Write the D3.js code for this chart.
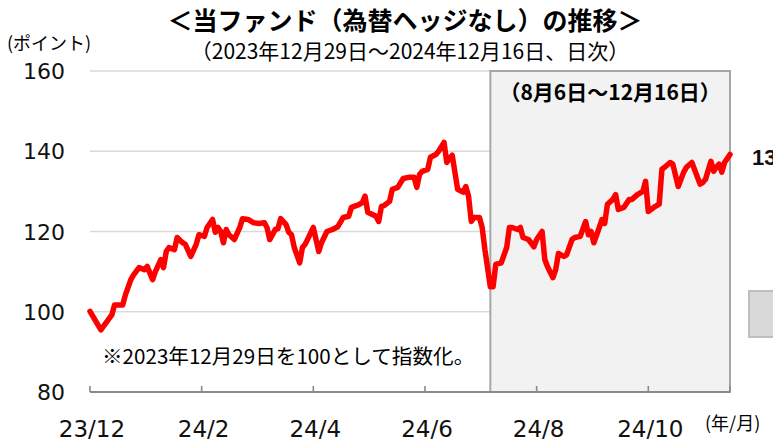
<html lang="ja">
<head>
<meta charset="utf-8">
<script src="https://cdnjs.cloudflare.com/ajax/libs/d3/7.8.5/d3.min.js"></script>
<style>
html, body {
  margin: 0;
  padding: 0;
  background: #fff;
  overflow: hidden;
}
.jp { font-family: 'Noto Sans CJK JP', sans-serif; }
.num { font-family: 'DejaVu Sans', sans-serif; }
</style>
</head>
<body>
<svg id="chart" width="773" height="441"></svg>
<script>
// trading day index (0 = 2023/12/29, 235 = 2024/12/16) and index value
const days = [0, 4, 8, 9, 12, 13, 15, 16, 18, 20, 21, 23, 24, 26, 27, 28, 29, 31, 32, 34,
  35, 37, 39, 40, 42, 43, 45, 46, 47, 48, 49, 50, 51, 53, 55, 56, 58, 60, 62, 64,
  65, 66, 67, 68, 69, 70, 72, 73, 74, 75, 77, 78, 79, 82, 84, 85, 87, 89, 91, 93,
  95, 96, 98, 99, 100, 101, 102, 105, 106, 107, 108, 110, 111, 113, 115, 117, 119, 120, 121, 122,
  124, 125, 127, 128, 130, 131, 132, 133, 135, 137, 138, 139, 140, 141, 143, 144, 145, 147, 148, 149,
  151, 153, 154, 155, 157, 158, 159, 161, 163, 164, 166, 167, 168, 170, 171, 172, 174, 175, 177, 178,
  180, 182, 183, 184, 185, 187, 188, 189, 190, 192, 193, 194, 196, 198, 199, 201, 203, 204, 205, 207,
  209, 210, 211, 213, 214, 216, 218, 219, 221, 224, 225, 226, 228, 229, 230, 231, 232, 233, 235];
const values = [100.1, 95.5, 99.2, 101.7, 101.7, 104.2, 108, 109.2, 111, 110.5, 111.3, 108, 110, 113, 111, 115, 116, 115.5, 118.5, 117.2,
  116.8, 113.8, 116.8, 119.2, 118.8, 121, 123, 119.8, 121, 120, 117.2, 120.5, 119.2, 118, 121, 123.2, 123, 122.2, 122, 122.2,
  121, 118, 119.2, 120.5, 120.7, 123.2, 121.7, 119.8, 119.2, 116, 112.2, 116, 116.8, 121, 115, 117.2, 120, 120.5, 121.2, 123.5,
  123.8, 126, 126.5, 126.8, 127.2, 128.8, 124.8, 123.8, 122.5, 126.2, 126.5, 127.5, 130.5, 131, 133.2, 133.5, 133.5, 131, 134.2, 135,
  135.5, 138.5, 139.2, 140, 142.2, 137.2, 138.2, 139, 130.5, 129.8, 131.2, 128.8, 122.5, 123.5, 123.5, 121, 115.5, 106.2, 106.2, 111.8,
  112.2, 116, 121, 121, 120.5, 121, 118.5, 118, 116.2, 118, 120, 113, 111.2, 108.5, 110.5, 114.5, 113.8, 114.2, 118, 118.5,
  118.8, 122.5, 119.2, 120, 117.2, 121, 123, 122, 126.8, 128, 129.2, 125.5, 126, 128, 128, 129.2, 130, 132.5, 125, 126,
  126.8, 135.5, 136, 137.2, 136.8, 131.2, 134.8, 136, 137.2, 131.8, 132.2, 133, 137.5, 135, 136, 136.8, 134.8, 137.2, 139.2];

const tickDays = [0, 41, 82, 123, 164, 205];
const tickLabels = ['23/12', '24/2', '24/4', '24/6', '24/8', '24/10'];
const yTicks = [80, 100, 120, 140, 160];
const periodStart = 147;   // 2024/8/6
const lastDay = 235;       // 2024/12/16

const svg = d3.select('#chart');

const x = d3.scaleLinear().domain([0, lastDay]).range([90, 730]);
const y = d3.scaleLinear().domain([80, 160]).range([392, 71]);

// grid lines
svg.append('g')
  .selectAll('line')
  .data(yTicks.filter(d => d > 80))
  .enter()
  .append('line')
  .attr('x1', x(0))
  .attr('x2', x(lastDay))
  .attr('y1', d => y(d))
  .attr('y2', d => y(d))
  .attr('stroke', '#d9d9d9')
  .attr('stroke-width', 1.6);

// shaded period
svg.append('rect')
  .attr('x', x(periodStart))
  .attr('y', y(160))
  .attr('width', x(lastDay) - x(periodStart))
  .attr('height', y(80) - y(160))
  .attr('fill', '#f2f2f2')
  .attr('stroke', '#a6a6a6')
  .attr('stroke-width', 2);

svg.append('text')
  .attr('class', 'jp')
  .attr('x', (x(periodStart) + x(lastDay)) / 2)
  .attr('y', 100)
  .attr('text-anchor', 'middle')
  .attr('font-size', 21)
  .attr('font-weight', 'bold')
  .text('（8月6日～12月16日）');

// y labels
svg.append('g')
  .selectAll('text')
  .data(yTicks)
  .enter()
  .append('text')
  .attr('class', 'num')
  .attr('x', 65)
  .attr('y', d => y(d) + 8)
  .attr('text-anchor', 'end')
  .attr('font-size', 22)
  .attr('fill', '#111')
  .text(d => d);

// x axis
const axisG = svg.append('g');
axisG.append('line')
  .attr('x1', x(0))
  .attr('x2', x(lastDay))
  .attr('y1', y(80))
  .attr('y2', y(80))
  .attr('stroke', '#898989')
  .attr('stroke-width', 2);

axisG.selectAll('.tick')
  .data(tickDays.concat([lastDay]))
  .enter()
  .append('line')
  .attr('x1', d => x(d))
  .attr('x2', d => x(d))
  .attr('y1', y(80) - 6)
  .attr('y2', y(80))
  .attr('stroke', '#898989')
  .attr('stroke-width', 1.6);

axisG.selectAll('.lbl')
  .data(tickDays)
  .enter()
  .append('text')
  .attr('class', 'num')
  .attr('x', d => x(d) + 2)
  .attr('y', 437)
  .attr('text-anchor', 'middle')
  .attr('font-size', 23)
  .attr('fill', '#111')
  .text((d, i) => tickLabels[i]);

// line
const line = d3.line()
  .x((d, i) => x(days[i]))
  .y(d => y(d));

svg.append('path')
  .datum(values)
  .attr('d', line)
  .attr('fill', 'none')
  .attr('stroke', '#ff0000')
  .attr('stroke-width', 5.5)
  .attr('stroke-linejoin', 'round')
  .attr('stroke-linecap', 'round');

// last value label (runs past the page edge as in the source)
svg.append('text')
  .attr('font-family', 'Liberation Sans, sans-serif')
  .attr('font-weight', 'bold')
  .attr('font-size', 22)
  .attr('x', 752)
  .attr('y', 165)
  .attr('fill', '#111')
  .text(values[values.length - 1].toFixed(1));

// box at right edge
svg.append('rect')
  .attr('x', 749)
  .attr('y', 291)
  .attr('width', 40)
  .attr('height', 46)
  .attr('fill', '#d9d9d9')
  .attr('stroke', '#bfbfbf')
  .attr('stroke-width', 2);

// titles and notes
svg.append('text')
  .attr('class', 'jp')
  .attr('x', 405)
  .attr('y', 30)
  .attr('text-anchor', 'middle')
  .attr('font-size', 25)
  .attr('font-weight', 'bold')
  .text('＜当ファンド（為替ヘッジなし）の推移＞');

svg.append('text')
  .attr('class', 'jp')
  .attr('x', 410)
  .attr('y', 59)
  .attr('text-anchor', 'middle')
  .attr('font-size', 21)
  .text('（2023年12月29日～2024年12月16日、日次）');

svg.append('text')
  .attr('class', 'jp')
  .attr('x', 7)
  .attr('y', 50)
  .attr('font-size', 18)
  .text('(ポイント)');

svg.append('text')
  .attr('class', 'jp')
  .attr('x', 102)
  .attr('y', 364)
  .attr('font-size', 20.6)
  .text('※2023年12月29日を100として指数化。');

svg.append('text')
  .attr('class', 'jp')
  .attr('x', 705)
  .attr('y', 430)
  .attr('font-size', 18)
  .text('(年/月)');
</script>
</body>
</html>
